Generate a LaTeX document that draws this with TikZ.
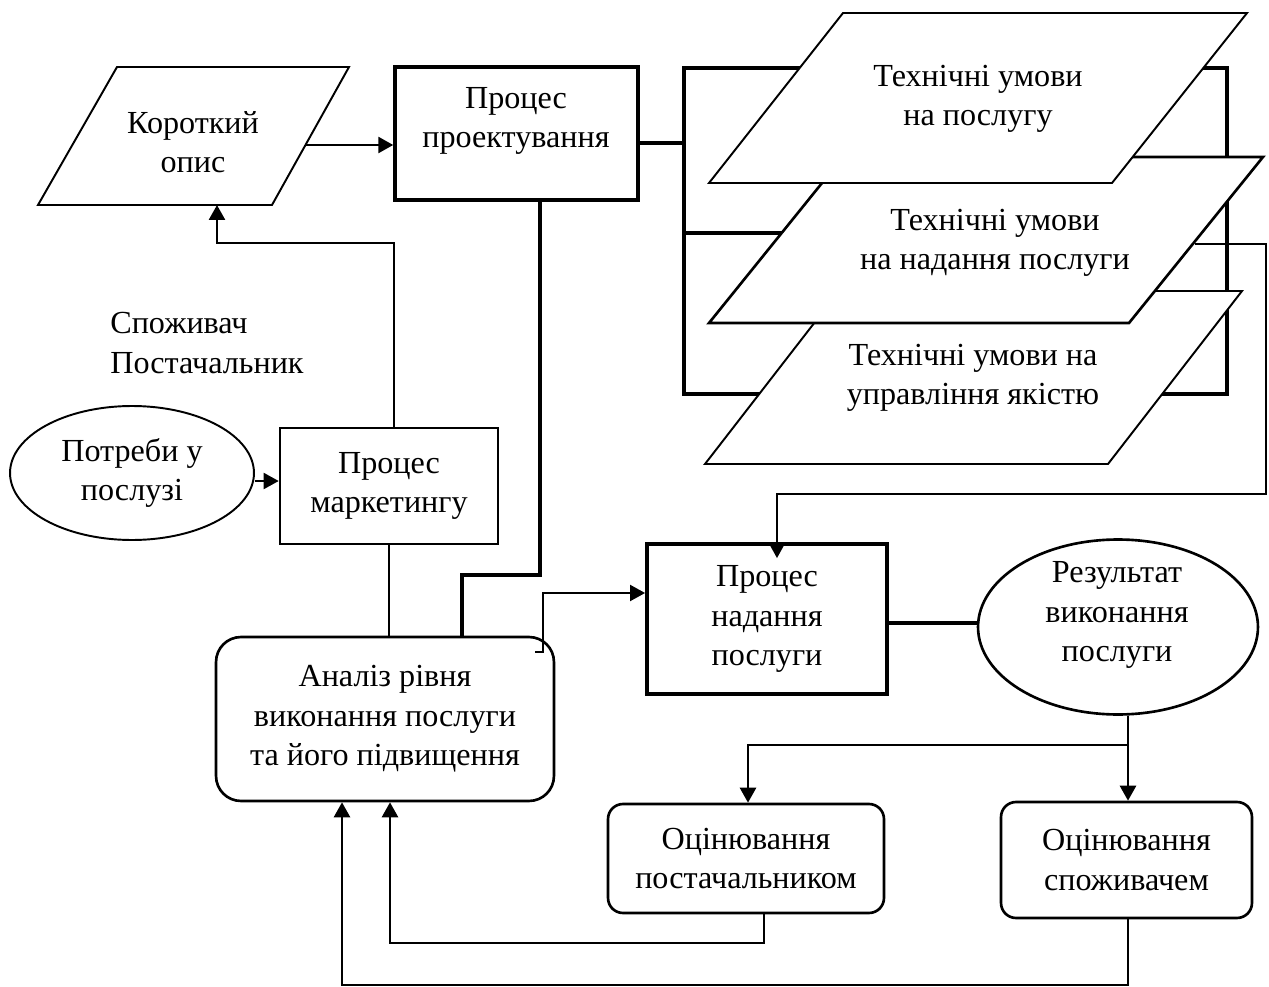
\documentclass[tikz,border=0pt]{standalone}
\usepackage{fontspec}
\setmainfont{Liberation Serif}
\usetikzlibrary{shapes.geometric,arrows.meta,calc}
\begin{document}
\begin{tikzpicture}[x=0.02cm,y=-0.02cm,
  lbl/.style={font=\fontsize{18.3}{22.4}\selectfont, align=center, inner sep=0pt},
  thinln/.style={line width=1.1pt},
  midln/.style={line width=1.5pt},
  boldln/.style={line width=2pt},
  arr/.style={-{Triangle[length=0.3cm,width=0.32cm]}},
  box/.style={lbl, draw, rectangle},
  ellnode/.style={draw, ellipse, inner sep=0pt},
]
\useasboundingbox (0,0) rectangle (1269,987);

% frame that gathers the three specification sheets
\draw[boldln] (684,68) rectangle (1227,394);
\draw[boldln] (684,233) -- (790,233);

% specification sheets, the lowest one first
\draw[thinln, fill=white] (839,291) -- (1242,291) -- (1108,464) -- (705,464) -- cycle;
\draw[midln, fill=white] (843,157) -- (1263,157) -- (1129,323) -- (709,323) -- cycle;
\draw[thinln, fill=white] (843,13) -- (1247,13) -- (1112,183) -- (709,183) -- cycle;
\node[lbl] (ts1) at (978,99) {Технічні умови\\на послугу};
\node[lbl] (ts2) at (995,243) {Технічні умови\\на надання послуги};
\node[lbl] (ts3) at (973,378) {Технічні умови на\\управління якістю};

% short description sheet
\draw[thinln] (117,67) -- (349,67) -- (272,205) -- (38,205) -- cycle;
\node[lbl] (kd) at (193,142) {Короткий\\опис};
\coordinate (kdout) at (305,145);
\coordinate (kdin) at (217,205);
\coordinate (kdbend) at (217,243);
\coordinate (m1) at (394,243);

% process boxes
\node[draw, boldln, minimum width=4.86cm, minimum height=2.66cm] (design) at (516.5,133.5) {};
\node[lbl] (designtxt) at (516,121) {Процес\\проектування};
\node[box, midln, minimum width=4.36cm, minimum height=2.32cm] (mark) at (389,486) {Процес\\маркетингу};
\coordinate (m0) at ($(mark.north)+(5,0)$);
\node[lbl, ellnode, thinln, minimum width=4.88cm, minimum height=2.68cm] (need) at (132,473) {Потреби у\\послузі};
\node[lbl, align=left, anchor=west] (roles) at (110,343) {Споживач\\Постачальник};
\node[box, midln, rounded corners=0.5cm, minimum width=6.76cm, minimum height=3.28cm] (anal) at (385,719) {Аналіз рівня\\виконання послуги\\та його підвищення};
\node[box, line width=2.2pt, minimum width=4.8cm, minimum height=3cm] (deliv) at (767,619) {Процес\\надання\\послуги};
\node[ellnode, midln, minimum width=5.6cm, minimum height=3.5cm] (result) at (1118,627) {};
\node[lbl] (restxt) at (1117,615) {Результат\\виконання\\послуги};
\node[box, midln, rounded corners=0.3cm, minimum width=5.52cm, minimum height=2.18cm] (esup) at (746,858.5) {Оцінювання\\постачальником};
\node[box, midln, rounded corners=0.3cm, minimum width=5.02cm, minimum height=2.32cm] (econs) at (1126.5,860) {Оцінювання\\споживачем};

% bend points of the connectors
\coordinate (brk) at (684,143);
\coordinate (nd) at (0,481);
\coordinate (d1) at (540,575);
\coordinate (d2) at (462,575);
\coordinate (a0) at (535,652);
\coordinate (a1) at (543,652);
\coordinate (a2) at (543,593);
\coordinate (s0) at (1195,244);
\coordinate (s1) at (1266,244);
\coordinate (s2) at (1266,494);
\coordinate (s3) at (777,494);
\coordinate (r0) at (978,623);
\coordinate (b0) at (1128,745);
\coordinate (b1) at (748,745);
\coordinate (c0) at (1128,985);
\coordinate (c1) at (342,985);
\coordinate (e0) at (764,943);
\coordinate (e1) at (390,943);

% connectors
\draw[midln, arr] (kdout) -- (design.west |- kdout);
\draw[boldln] (design.east |- brk) -- (brk);
\draw[midln, arr] (m0) -- (m1) -- (kdbend) -- (kdin);
\draw[thinln, arr] (need.east |- nd) -- (mark.west |- nd);
\draw[boldln] (design.south -| d1) -- (d1) -- (d2) -- (anal.north -| d2);
\draw[midln] (mark.south) -- (anal.north -| mark.south);
\draw[thinln, arr] (a0) -- (a1) -- (a2) -- (deliv.west |- a2);
\draw[thinln, arr] (s0) -- (s1) -- (s2) -- (s3) -- ($(deliv.north -| s3)+(0,16)$);
\draw[boldln] (deliv.east |- r0) -- (result.west |- r0);
\draw[midln, arr] (result.south -| b0) -- (econs.north -| b0);
\draw[midln, arr] (b0) -- (b1) -- (esup.north -| b1);
\draw[midln, arr] (econs.south -| c0) -- (c0) -- (c1) -- (anal.south -| c1);
\draw[midln, arr] (esup.south -| e0) -- (e0) -- (e1) -- (anal.south -| e1);
\end{tikzpicture}
\end{document}
